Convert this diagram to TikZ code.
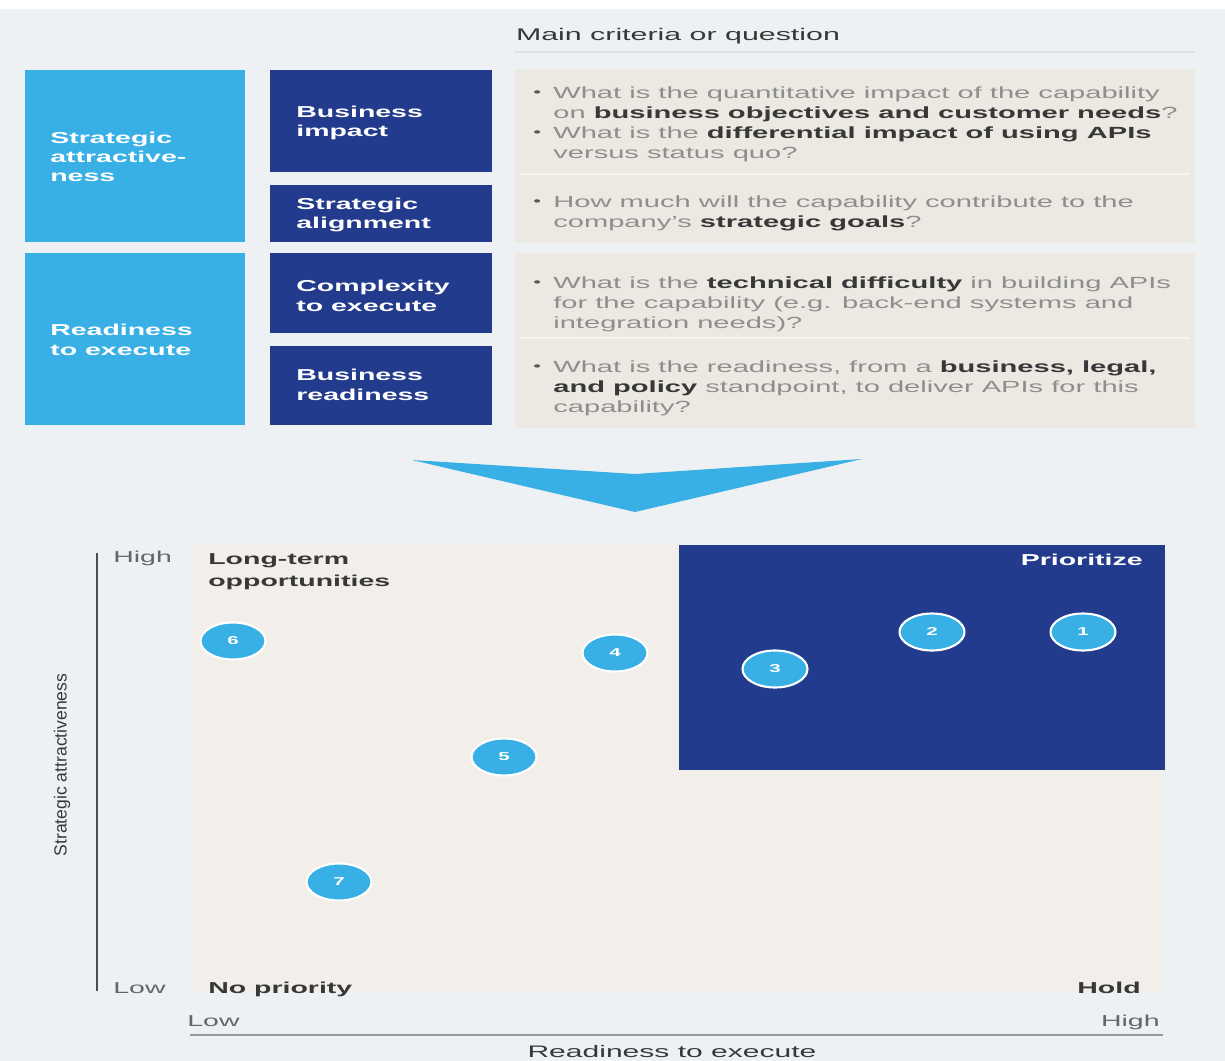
\documentclass[tikz,border=0pt]{standalone}
\usepackage{fontspec}
\setmainfont{Liberation Sans}[FakeStretch=1.8]
\newfontfamily\plainsans{Liberation Sans}
\usetikzlibrary{shapes.geometric}

\definecolor{pagebg}{HTML}{EEF1F4}
\definecolor{skyblue}{HTML}{38B0E6}
\definecolor{navy}{HTML}{233B8C}
\definecolor{stone}{HTML}{ECE9E3}
\definecolor{sand}{HTML}{F2EFEA}
\definecolor{ink}{HTML}{383838}
\definecolor{soft}{HTML}{8E8E8E}

\newcommand{\setsize}[2]{\fontsize{#1}{#2}\selectfont}
\newcommand{\qb}{\llap{\color{black!65}\raisebox{1pt}{\scriptsize\textbullet}\hspace{7pt}}}
\newcommand{\hl}[1]{\textbf{\color{ink}#1}}

\tikzset{
  sidebox/.style={fill=skyblue, inner sep=0, anchor=north west},
  itembox/.style={fill=navy, inner sep=0, anchor=north west},
  qbox/.style={fill=stone, inner sep=0, anchor=north west},
  boxlabel/.style={text=white, font=\bfseries\setsize{9}{11}, align=left, anchor=base west, inner sep=0},
  qtext/.style={text=soft, font=\setsize{9.2}{11.4}, align=left, anchor=north west, inner sep=0},
  quadlabel/.style={text=ink, font=\bfseries\setsize{9}{12}, align=left, inner sep=0},
  ticklabel/.style={text=black!60, font=\setsize{9}{11}, inner sep=0},
  dot/.style={ellipse, fill=skyblue, draw=white, line width=1.2pt, minimum width=1.3cm,
    minimum height=0.74cm, inner sep=0, text=white, font=\bfseries\setsize{6.5}{7}},
}

\begin{document}
\begin{tikzpicture}[x=0.02cm, y=-0.02cm]
	% page
	\fill[pagebg] (0,0) rectangle (1225,1061);
	\useasboundingbox (0,0) rectangle (1225,1061);
	\fill[white] (0,0) rectangle (1225,9);

	% heading of the question column
	\node[text=ink, font=\setsize{9.6}{11}, anchor=base, inner sep=0] (head) at (678,41) {Main criteria or question};
	\draw[black!12, line width=1pt] (515,52) -- (1195,52);

	% dimension boxes
	\node[sidebox, minimum width=4.4cm, minimum height=3.44cm] (strat) at (25,70) {};
	\node[sidebox, minimum width=4.4cm, minimum height=3.44cm] (ready) at (25,253) {};
	\node[itembox, minimum width=4.44cm, minimum height=2.04cm] (bizimp) at (270,70) {};
	\node[itembox, minimum width=4.44cm, minimum height=1.14cm] (align) at (270,185) {};
	\node[itembox, minimum width=4.44cm, minimum height=1.6cm] (complex) at (270,253) {};
	\node[itembox, minimum width=4.44cm, minimum height=1.58cm] (bizready) at (270,346) {};
	\node[qbox, minimum width=13.6cm, minimum height=3.44cm] (qtop) at (515,70) {};
	\node[qbox, minimum width=13.6cm, minimum height=3.5cm] (qbot) at (515,253) {};
	\draw[white!55!stone, line width=1pt] (520,174) -- (1190,174);
	\draw[white!55!stone, line width=1pt] (520,338) -- (1190,338);

	% labels sit on the baseline of their last line
	\node[boxlabel] (stratlbl) at (50,182) {Strategic\\attractive-\\ness};
	\node[boxlabel] (readylbl) at (50,355) {Readiness\\to execute};
	\node[boxlabel] (bizimplbl) at (296,137) {Business\\impact};
	\node[boxlabel] (alignlbl) at (296,229) {Strategic\\alignment};
	\node[boxlabel] (complexlbl) at (296,311) {Complexity\\to execute};
	\node[boxlabel] (bizreadylbl) at (296,400) {Business\\readiness};

	% questions
	\node[qtext] (q1) at (553,86) {\qb What is the quantitative impact of the capability\\
		on \hl{business objectives and customer needs}?};
	\node[qtext] (q2) at (553,126) {\qb What is the \hl{differential impact of using APIs}\\
		versus status quo?};
	\node[qtext] (q3) at (553,195) {\qb How much will the capability contribute to the\\
		company's \hl{strategic goals}?};
	\node[qtext] (q4) at (553,276) {\qb What is the \hl{technical difficulty} in building APIs\\
		for the capability (e.g. back-end systems and\\ integration needs)?};
	\node[qtext] (q5) at (553,360) {\qb What is the readiness, from a \hl{business, legal,}\\
		\hl{and policy} standpoint, to deliver APIs for this\\ capability?};

	% chevron
	\fill[skyblue] (412,460) -- (635,474) -- (862,459) -- (635,512) -- cycle;

	% matrix
	\fill[sand] (190,545) rectangle (1163,993);
	\node[fill=navy, inner sep=0, anchor=north west, minimum width=9.72cm, minimum height=4.5cm] (prio) at (679,545) {};
	\draw[black!70, line width=1.1pt] (97,553) -- (97,991);
	\draw[black!40, line width=1.3pt] (190,1035) -- (1163,1035);

	\node[ticklabel, anchor=base west] (yhigh) at (113,562) {High};
	\node[ticklabel, anchor=base west] (ylow) at (113,993) {Low};
	\node[ticklabel, anchor=base west] (xlow) at (187,1026) {Low};
	\node[ticklabel, anchor=base east] (xhigh) at (1160,1026) {High};
	\node[text=ink, font=\setsize{9.5}{11}, anchor=base, inner sep=0] (xtitle) at (672,1057) {Readiness to execute};
	\node[text=ink, font=\plainsans\setsize{10}{12}, rotate=90, inner sep=0] (ytitle) at (62,765) {Strategic attractiveness};

	\node[quadlabel, anchor=base west] (longterm) at (208,586) {Long-term\\opportunities};
	\node[quadlabel, anchor=base west] (nopri) at (208,993) {No priority};
	\node[quadlabel, anchor=base east, text=white] (prlbl) at (1143,565) {Prioritize};
	\node[quadlabel, anchor=base east] (hold) at (1141,993) {Hold};

	% capabilities
	\node[dot] (c1) at (1083,632) {1};
	\node[dot] (c2) at (932,632) {2};
	\node[dot] (c3) at (775,669) {3};
	\node[dot] (c4) at (615,653) {4};
	\node[dot] (c5) at (504,757) {5};
	\node[dot] (c6) at (233,641) {6};
	\node[dot] (c7) at (339,882) {7};
\end{tikzpicture}
\end{document}
